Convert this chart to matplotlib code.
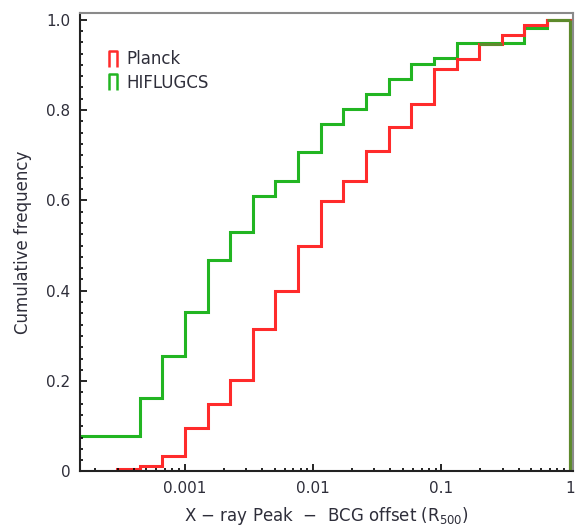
import numpy as np
import matplotlib
matplotlib.use("Agg")
import matplotlib.pyplot as plt
from matplotlib.lines import Line2D
from matplotlib.path import Path
from matplotlib.ticker import FixedLocator, MultipleLocator, FuncFormatter, LogLocator, NullFormatter

# bin edges (R500), equal steps in log offset
green_edges = [1.311e-4, 1.968e-4, 2.955e-4, 4.437e-4, 6.662e-4, 1.0e-3,
               1.501e-3, 2.254e-3, 3.384e-3, 5.081e-3, 7.628e-3, 1.145e-2,
               1.719e-2, 2.582e-2, 3.876e-2, 5.819e-2, 8.736e-2, 0.1311,
               0.1968, 0.2955, 0.4437, 0.6662, 1.0]
red_edges = green_edges[2:]

# cumulative frequencies per bin
hiflugcs = [0.079, 0.079, 0.079, 0.162, 0.256, 0.354, 0.468, 0.531, 0.609,
            0.643, 0.707, 0.770, 0.803, 0.836, 0.869, 0.903, 0.916, 0.948,
            0.948, 0.948, 0.982, 1.0]
planck = [0.005, 0.013, 0.035, 0.097, 0.150, 0.203, 0.315, 0.400, 0.500,
          0.598, 0.643, 0.710, 0.762, 0.814, 0.891, 0.913, 0.947, 0.967,
          0.989, 1.0]

xticks = [0.001, 0.01, 0.1, 1]
xticklabels = ["0.001", "0.01", "0.1", "1"]

red = "#ff2b2b"
green = "#22b522"
olive = "#5d8a2c"
txt = "#2e2e3a"

fig = plt.figure(figsize=(5.77, 5.30), dpi=100)
ax = fig.add_axes([0.1386, 0.1104, 0.8544, 0.8660])

ax.stairs(hiflugcs, green_edges, baseline=0, color=green, lw=2.2)
ax.stairs(planck, red_edges, baseline=0, color=red, lw=2.2)

# where both curves coincide the lines look olive
same = np.isclose(planck, hiflugcs[2:], atol=0.003)
for i in np.where(same)[0]:
    ax.hlines(planck[i], red_edges[i], red_edges[i + 1], color=olive, lw=2.2)
ax.vlines(red_edges[-1], 0, planck[-1], color=olive, lw=2.2)

ax.set_xscale("log")
ax.set_xlim(1.52e-4, 1.06)
ax.set_ylim(0, 1.016)

ax.xaxis.set_major_locator(FixedLocator(xticks))
ax.set_xticklabels(xticklabels)
ax.xaxis.set_minor_locator(LogLocator(base=10, subs=np.arange(2, 10)))
ax.xaxis.set_minor_formatter(NullFormatter())
ax.yaxis.set_major_locator(MultipleLocator(0.2))
ax.yaxis.set_minor_locator(MultipleLocator(0.025))
ax.yaxis.set_major_formatter(FuncFormatter(lambda v, p: "0" if abs(v) < 1e-9 else "%.1f" % v))

ax.tick_params(which="both", direction="in", top=False, right=False,
               labelsize=11, labelcolor=txt, width=1.2)
ax.tick_params(which="major", length=5, pad=7)
ax.tick_params(which="minor", length=2.5)

for s in ["left", "bottom"]:
    ax.spines[s].set_linewidth(1.5)
    ax.spines[s].set_color("#222222")
for s in ["top", "right"]:
    ax.spines[s].set_linewidth(1.5)
    ax.spines[s].set_color("#8a8a8a")

ax.set_xlabel("X $-$ ray Peak  $-$  BCG offset (R$_{500}$)", fontsize=12, color=txt, labelpad=6)
ax.set_ylabel("Cumulative frequency", fontsize=12, color=txt, labelpad=10)

cap = Path([(-0.55, -1), (-0.55, 1), (0.55, 1), (0.55, -1)])
handles = [Line2D([], [], marker=cap, color=red, mfc="none", mew=1.8, ms=11, ls="none"),
           Line2D([], [], marker=cap, color=green, mfc="none", mew=1.8, ms=11, ls="none")]
ax.legend(handles, ["Planck", "HIFLUGCS"], loc="upper left", bbox_to_anchor=(0.02, 0.95),
          frameon=False, fontsize=12, labelcolor=txt, handlelength=1.0,
          handletextpad=0.3, labelspacing=0.35)

fig.savefig("out.png", dpi=100)
